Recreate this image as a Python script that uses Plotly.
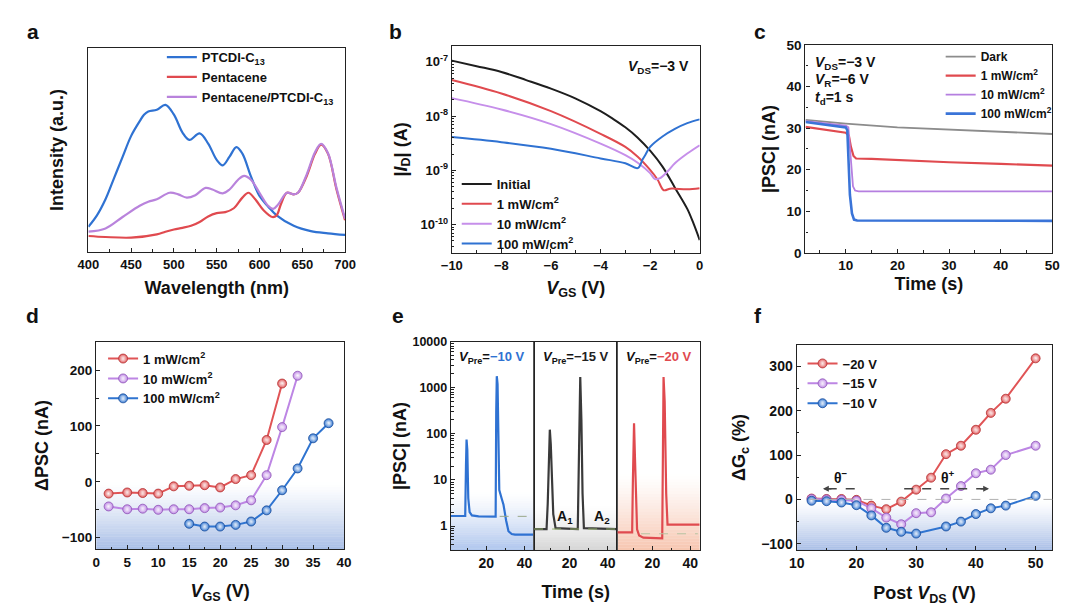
import plotly.graph_objects as go

# ---------------- data ----------------
# (a) PL spectra
a_wl_blue = [400,410,420,430,440,450,460,465,470,480,490,500,510,518,530,540,550,557,565,573,580,590,600,610,620,640,660,680,700]
a_int_blue = [12.3,17.9,25.8,36.2,46.6,56.9,64.1,67.3,68.9,69.7,72.1,67.3,58.5,54.9,58.1,53.1,45.1,42.4,46.7,51.4,48.2,37.0,27.4,22.3,17.9,12.8,10.2,9.1,8.3]
a_wl_red = [400,420,450,480,490,500,510,520,530,540,550,560,570,580,587,595,605,615,620,625,632,640,645,655,665,672,680,690,700]
a_int_red = [7.8,7.3,7.0,8.6,9.9,11.0,11.8,12.8,14.7,17.4,19.0,19.5,21.4,26.6,29.0,25.8,20.3,17.1,17.9,23.4,29.0,28.2,29.0,37.0,48.2,52.6,48.2,30.6,15.5]
a_wl_pur = [400,420,440,460,470,480,495,505,515,525,537,545,557,565,575,582,590,600,610,616,622,632,640,645,655,665,672,680,690,700]
a_int_pur = [9.9,11.5,17.1,22.6,24.6,25.8,29.0,28.2,26.6,27.8,31.4,30.6,28.7,30.6,35.4,37.3,35.4,29.0,22.6,21.1,23.4,29.0,28.2,29.0,37.8,49.0,53.0,48.5,31.4,16.3]
a_names = ["PTCDI-C<sub>13</sub>", "Pentacene", "Pentacene/PTCDI-C<sub>13</sub>"]

# (b) transfer curves
b_v_init = [-10,-9,-8,-7,-6,-5,-4,-3.5,-3,-2.5,-2,-1.5,-1,-0.5,-0.25,0]
b_i_init = [1.05e-7,8.3e-8,6.5e-8,4.6e-8,3.2e-8,2.1e-8,1.23e-8,8.9e-9,6.2e-9,4.0e-9,2.3e-9,1.17e-9,4.8e-10,1.95e-10,1.05e-10,5.2e-11]
b_v_1 = [-10,-8,-6,-4,-3,-2.5,-2,-1.7,-1.45,-1.2,-1,-0.5,0]
b_i_1 = [4.6e-8,2.6e-8,1.23e-8,4.7e-9,2.7e-9,1.78e-9,1.02e-9,6.8e-10,4.3e-10,4.6e-10,4.6e-10,4.5e-10,4.7e-10]
b_v_10 = [-10,-8,-6,-4,-3,-2.5,-2,-1.8,-1.6,-1.3,-1,-0.5,0]
b_i_10 = [2.14e-8,1.32e-8,7.1e-9,3.1e-9,1.9e-9,1.38e-9,8.9e-10,6.9e-10,7.2e-10,9.5e-10,1.35e-9,2.04e-9,2.9e-9]
b_v_100 = [-10,-8,-6,-4,-3,-2.5,-2.3,-2.2,-2,-1.5,-1,-0.5,0]
b_i_100 = [4.1e-9,3.3e-9,2.5e-9,1.66e-9,1.35e-9,1.1e-9,1.6e-9,1.9e-9,2.7e-9,4.2e-9,5.8e-9,7.4e-9,8.7e-9]
b_names = ["Initial", "1 mW/cm<sup>2</sup>", "10 mW/cm<sup>2</sup>", "100 mW/cm<sup>2</sup>"]

# (c) PSC vs time
c_t_dark = [2.2,10,20,30,40,50]
c_i_dark = [32.0,31.1,30.2,29.7,29.2,28.6]
c_t_1 = [2.2,10,10.6,11.0,11.5,12,15,20,30,40,50]
c_i_1 = [30.3,28.9,28.2,25.5,23.3,22.7,22.6,22.3,21.8,21.4,21.0]
c_t_10 = [2.2,10,10.5,11,11.4,11.8,12.5,50]
c_i_10 = [31.7,30.6,30.2,22,16,15.0,14.8,14.8]
c_t_100 = [2.2,10,10.3,10.8,11.2,11.6,12.2,50]
c_i_100 = [31.5,30.2,29.5,14,9.5,8.0,7.8,7.7]
c_names = ["Dark", "1 mW/cm<sup>2</sup>", "10 mW/cm<sup>2</sup>", "100 mW/cm<sup>2</sup>"]

# (d) ΔPSC vs VGS
d_v_1 = [2,5,7.5,10,12.5,15,17.5,20,22.5,25,27.5,30]
d_p_1 = [-21,-19,-20,-21,-8,-7,-6,-10,5,12,75,176]
d_v_10 = [2,5,7.5,10,12.5,15,17.5,20,22.5,25,27.5,30,32.5]
d_p_10 = [-44,-49,-48,-50,-49,-49,-47,-46,-42,-33,12,98,190]
d_v_100 = [15,17.5,20,22.5,25,27.5,30,32.5,35,37.5]
d_p_100 = [-75,-80,-80,-77,-71,-51,-15,24,78,105]
d_names = ["1 mW/cm<sup>2</sup>", "10 mW/cm<sup>2</sup>", "100 mW/cm<sup>2</sup>"]

# (e) PSC spikes for three pre-voltages
e_t_blue = [1.5,9.0,9.4,9.7,10.1,10.6,11.3,12.5,16,24.9,25.2,25.5,25.9,26.4,26.8,28.0,29.0,30.4,31.6,33.3,35,45]
e_i_blue = [1.65,1.65,20,75,45,4.0,2.0,1.7,1.62,1.6,300,1780,1200,40,6.0,4.0,2.9,1.3,0.77,0.67,0.65,0.65]
e_t_black = [1.5,8.0,8.6,9.2,9.7,10.2,10.8,11.5,12.7,24.3,24.9,25.6,26.2,26.8,27.5,45]
e_i_black = [0.86,0.86,3,40,123,60,10,1.8,0.9,0.86,30,1700,200,5,0.9,0.86]
e_t_red = [1.5,9.3,9.7,10.3,10.8,11.3,11.9,13,15.2,25.2,25.5,25.9,26.5,27.3,28,45]
e_i_red = [0.73,0.73,10,170,30,2.5,0.85,0.62,0.56,0.54,50,1700,500,5,1.07,1.07]
e_ref_t1 = [27, 45]; e_ref_i1 = [1.62, 1.62]
e_ref_t2 = [1.5, 45]; e_ref_i2 = [0.86, 0.86]
e_ref_t3 = [14, 44]; e_ref_i3 = [0.68, 0.68]
e_labels = ["\u221210 V", "\u221215 V", "\u221220 V"]

# (f) ΔGc vs post VDS
f_v_20 = [12.5,15,17.5,20,22.5,25,27.5,30,32.5,35,37.5,40,42.5,45,50]
f_g_20 = [2,1,1,-1,-14,-22,-5,22,49,102,121,157,195,227,318]
f_v_15 = [12.5,15,17.5,20,22.5,25,27.5,30,32.5,35,37.5,40,42.5,45,50]
f_g_15 = [1,0,-1,-3,-20,-41,-56,-31,-29,2,30,59,67,100,121]
f_v_10 = [12.5,15,17.5,20,22.5,25,27.5,30,35,37.5,40,42.5,45,50]
f_g_10 = [-3,-4,-7,-13,-36,-64,-73,-77,-61,-50,-33,-20,-14,8]
f_names = ["\u221220 V", "\u221215 V", "\u221210 V"]

# ---------------- style ----------------
W, H = 1080, 616
FONT = "Liberation Sans, Arial, sans-serif"
BLUE = "#2f72d2"
RED = "#e04a4f"
BLACK = "#1e1e1e"
GRAY = "#8c8c8c"

def dx(a, b):
    return [a / W, b / W]

def dy(top, bottom):
    return [1 - bottom / H, 1 - top / H]

def tf(size=13):
    return dict(family=FONT, size=size, color="#111", weight="bold")

def axis(domain, anchor, title="", standoff=4, tsize=13, **kw):
    d = dict(domain=domain, anchor=anchor, showline=True, linecolor="#222", linewidth=1.3,
             mirror=True, ticks="inside", ticklen=4, tickwidth=1.2, tickcolor="#222",
             showgrid=False, zeroline=False, tickfont=tf(tsize),
             title=dict(text=title, font=tf(18), standoff=standoff))
    d.update(kw)
    return d

def leg(x, y, size=12):
    return dict(x=x / W, y=1 - y / H, xanchor="left", yanchor="top", bgcolor="rgba(0,0,0,0)",
                font=dict(family=FONT, size=size, color="#111", weight="bold"),
                itemwidth=30, tracegroupgap=0, borderwidth=0)

fig = go.Figure()

def line(x, y, color, name, xa, ya, lg=None, width=2, shape="linear", show=True, dash=None):
    fig.add_trace(go.Scatter(x=x, y=y, mode="lines", name=name, xaxis=xa, yaxis=ya,
                             line=dict(color=color, width=width, shape=shape, dash=dash),
                             legend=lg, showlegend=show and lg is not None))

def ball(x, y, color, edge, name, xa, ya, lg):
    fig.add_trace(go.Scatter(x=x, y=y, mode="lines+markers", name=name, xaxis=xa, yaxis=ya,
                             line=dict(color=color, width=2),
                             marker=dict(size=9, color=color, line=dict(color=edge, width=0.8),
                                         gradient=dict(type="radial", color="rgba(255,255,255,0.85)")),
                             legend=lg))

# (a)
line(a_wl_blue, a_int_blue, BLUE, a_names[0], "x", "y", "legend", 2.2, "spline")
line(a_wl_red, a_int_red, RED, a_names[1], "x", "y", "legend", 2.2, "spline")
line(a_wl_pur, a_int_pur, "#b983dc", a_names[2], "x", "y", "legend", 2.2, "spline")
# (b)
line(b_v_init, b_i_init, BLACK, b_names[0], "x2", "y2", "legend2", 2, "spline")
line(b_v_1, b_i_1, RED, b_names[1], "x2", "y2", "legend2", 2, "spline")
line(b_v_10, b_i_10, "#c68fea", b_names[2], "x2", "y2", "legend2", 2, "spline")
line(b_v_100, b_i_100, BLUE, b_names[3], "x2", "y2", "legend2", 2, "spline")
# (c)
line(c_t_dark, c_i_dark, GRAY, c_names[0], "x3", "y3", "legend3", 1.8)
line(c_t_1, c_i_1, RED, c_names[1], "x3", "y3", "legend3", 2.2)
line(c_t_10, c_i_10, "#b57fe0", c_names[2], "x3", "y3", "legend3", 1.8)
line(c_t_100, c_i_100, "#3a74d8", c_names[3], "x3", "y3", "legend3", 2.6)
# (d)
ball(d_v_1, d_p_1, "#e05456", "#b53335", d_names[0], "x4", "y4", "legend4")
ball(d_v_10, d_p_10, "#bd86e4", "#9058b8", d_names[1], "x4", "y4", "legend4")
ball(d_v_100, d_p_100, "#2f74d0", "#1d4f9c", d_names[2], "x4", "y4", "legend4")
# (e)
line(e_t_blue, e_i_blue, BLUE, "V_Pre -10 V", "x5", "y5", width=2.2)
line(e_ref_t1, e_ref_i1, "#9aa88a", "ref1", "x5", "y5", width=1, dash="dash")
line(e_t_black, e_i_black, "#3a3a3a", "V_Pre -15 V", "x6", "y6", width=2.2)
line(e_ref_t2, e_ref_i2, "#93b06a", "ref2", "x6", "y6", width=1, dash="dash")
line(e_t_red, e_i_red, RED, "V_Pre -20 V", "x7", "y7", width=2.2)
line(e_ref_t3, e_ref_i3, "#b8c4a2", "ref3", "x7", "y7", width=1.2, dash="dash")
# (f)
ball(f_v_20, f_g_20, "#e05456", "#b53335", f_names[0], "x8", "y8", "legend5")
ball(f_v_15, f_g_15, "#bd86e4", "#9058b8", f_names[1], "x8", "y8", "legend5")
ball(f_v_10, f_g_10, "#2f74d0", "#1d4f9c", f_names[2], "x8", "y8", "legend5")

# ---------------- gradient backgrounds ----------------
shapes = []
def bands(xref, yref, y_top, y_bot, rgb, amax, n=26, power=1.3):
    for i in range(n):
        t0 = y_top + (y_bot - y_top) * i / n
        t1 = y_top + (y_bot - y_top) * (i + 1) / n
        a = amax * ((i + 0.5) / n) ** power
        shapes.append(dict(type="rect", xref=xref, yref=yref, x0=0, x1=1, y0=t0, y1=t1,
                           fillcolor=f"rgba({rgb},{a:.3f})", line=dict(width=0), layer="below"))

bands("x4 domain", "y4", 0, -121, "95,135,210", 0.55)
bands("x5 domain", "y5 domain", 0.28, 0, "95,140,220", 0.5)
bands("x6 domain", "y6 domain", 0.22, 0, "150,150,150", 0.4)
bands("x7 domain", "y7 domain", 0.37, 0, "240,150,110", 0.55)
bands("x8 domain", "y8", 0, -115, "95,135,210", 0.55)

shapes.append(dict(type="line", xref="x8 domain", yref="y8", x0=0.05, x1=1, y0=0, y1=0,
                   line=dict(color="#b0b0b0", width=1, dash="dash")))
# theta arrows
shapes.append(dict(type="line", xref="x8", yref="y8", x0=15.2, x1=20.7, y0=24, y1=24,
                   line=dict(color="#444", width=1.3, dash="dash")))
shapes.append(dict(type="line", xref="x8", yref="y8", x0=28.0, x1=41.4, y0=24, y1=24,
                   line=dict(color="#444", width=1.3, dash="dash")))

def A(**kw):
    d = dict(showarrow=False, xanchor="center", yanchor="middle")
    d.update(kw)
    return d

ann = []
for lbl, x, y in [("a", 22, 25), ("b", 392, 25), ("c", 765, 25), ("d", 22, 316), ("e", 395, 316), ("f", 763, 316)]:
    ann.append(A(text=lbl, x=x / W, y=1 - y / H, xref="paper", yref="paper",
                 font=dict(family=FONT, size=21, color="#111", weight="bold")))
ann.append(A(text="<i>V</i><sub>DS</sub>=\u22123 V", x=0.965, y=0.9, xref="x2 domain", yref="y2 domain",
             xanchor="right", font=tf(14)))
for i, s in enumerate(["<i>V</i><sub>DS</sub>=\u22123 V", "<i>V</i><sub>R</sub>=\u22126 V", "<i>t</i><sub>d</sub>=1 s"]):
    ann.append(A(text=s, x=0.03, y=(1 - (57 + 18 * i - 39) / 213), xref="x3 domain", yref="y3 domain",
                 xanchor="left", font=tf(14)))
for xa, lab, col in [("x5", e_labels[0], BLUE), ("x6", e_labels[1], "#222"), ("x7", e_labels[2], RED)]:
    ann.append(A(text=f"<i>V</i><sub>Pre</sub>=<span style='color:{col}'>{lab}</span>", x=0.5, y=0.925,
                 xref=xa + " domain", yref="y5 domain", font=tf(13)))
ann.append(A(text="A<sub>1</sub>", x=17.8, y=0.16, xref="x6", yref="y6 domain", font=tf(14)))
ann.append(A(text="A<sub>2</sub>", x=37.1, y=0.16, xref="x6", yref="y6 domain", font=tf(14)))
ann.append(A(text="θ<sup>\u2212</sup>", x=17.5, y=50, xref="x8", yref="y8", font=tf(14)))
ann.append(A(text="θ<sup>+</sup>", x=35.4, y=50, xref="x8", yref="y8", font=tf(14)))
ann.append(dict(text="", x=14.4, y=24, xref="x8", yref="y8", ax=10, ay=0, showarrow=True,
                arrowhead=2, arrowsize=0.9, arrowwidth=1.3, arrowcolor="#444"))
ann.append(dict(text="", x=42.2, y=24, xref="x8", yref="y8", ax=-10, ay=0, showarrow=True,
                arrowhead=2, arrowsize=0.9, arrowwidth=1.3, arrowcolor="#444"))

def logminor(lo, hi):
    v = []
    for e in range(lo, hi):
        for m in range(2, 10):
            v.append(m * 10 ** e)
    return v

e_dom_y = dy(343, 557)
fig.update_layout(
    width=W, height=H, margin=dict(l=0, r=0, t=0, b=0),
    paper_bgcolor="white", plot_bgcolor="rgba(0,0,0,0)",
    font=dict(family=FONT, color="#111"),
    shapes=shapes, annotations=ann,
    xaxis=axis(dx(79, 341), "y", "Wavelength (nm)", 10, range=[400, 700], tickvals=[400,450,500,550,600,650,700],
               minor=dict(ticks="inside", ticklen=2.5, dtick=25, tick0=400)),
    yaxis=axis(dy(42, 251), "x", "Intensity (a.u.)", 18, range=[0, 100], showticklabels=False, ticks=""),
    xaxis2=axis(dx(450, 703), "y2", "<i>V</i><sub>GS</sub> (V)", 9, range=[-10, 0], tickvals=[-10,-8,-6,-4,-2,0],
                minor=dict(ticks="inside", ticklen=2.5, dtick=1, tick0=0)),
    yaxis2=axis(dy(40, 252), "x2", "|<i>I</i><sub>D</sub>| (A)", 8, type="log", range=[-10.52, -6.71],
                tickvals=[1e-10, 1e-9, 1e-8, 1e-7],
                ticktext=["10<sup>-10</sup>", "10<sup>-9</sup>", "10<sup>-8</sup>", "10<sup>-7</sup>"],
                minor=dict(ticks="inside", ticklen=2.5, tickvals=logminor(-11, -6))),
    xaxis3=axis(dx(811, 1063), "y3", "Time (s)", 5, 13.5, range=[2.2, 50], tickvals=[10,20,30,40,50],
                minor=dict(ticks="inside", ticklen=2.5, dtick=5, tick0=0)),
    yaxis3=axis(dy(39, 252), "x3", "|PSC| (nA)", 6, 13.5, range=[0, 50], tickvals=[0,10,20,30,40,50],
                minor=dict(ticks="inside", ticklen=2.5, dtick=5, tick0=0)),
    xaxis4=axis(dx(87, 340), "y4", "<i>V</i><sub>GS</sub> (V)", 15, 13.5, range=[0, 40], tickvals=list(range(0, 45, 5)),
                minor=dict(ticks="inside", ticklen=2.5, dtick=2.5, tick0=0)),
    yaxis4=axis(dy(343, 556), "x4", "\u0394PSC (nA)", 8, 13.5, range=[-121, 251], tickvals=[-100, 0, 100, 200],
                minor=dict(ticks="inside", ticklen=2.5, dtick=50, tick0=0)),
    xaxis5=axis(dx(449, 534), "y5", "", 4, 14, range=[1.5, 45], tickvals=[20, 40],
                minor=dict(ticks="inside", ticklen=2.5, tickvals=[10, 30])),
    yaxis5=axis(e_dom_y, "x5", "|PSC| (nA)", 1, 12.5, type="log", range=[-0.53, 4],
                tickvals=[1, 10, 100, 1000, 10000], ticktext=["1", "10", "100", "1000", "10000"],
                minor=dict(ticks="inside", ticklen=2.5, tickvals=logminor(-1, 4))),
    xaxis6=axis(dx(534, 619), "y6", "Time (s)", 15, 14, range=[1.5, 45], tickvals=[20, 40],
                minor=dict(ticks="inside", ticklen=2.5, tickvals=[10, 30])),
    yaxis6=axis(e_dom_y, "x6", "", type="log", range=[-0.53, 4], matches="y5", showticklabels=False, ticks="",
                linecolor="#555"),
    xaxis7=axis(dx(619, 703), "y7", "", 4, 14, range=[1.5, 45], tickvals=[20, 40],
                minor=dict(ticks="inside", ticklen=2.5, tickvals=[10, 30])),
    yaxis7=axis(e_dom_y, "x7", "", type="log", range=[-0.53, 4], matches="y5", showticklabels=False, ticks=""),
    xaxis8=axis(dx(802, 1063), "y8", "Post <i>V</i><sub>DS</sub> (V)", 16, 14, range=[10, 52.8], tickvals=[10,20,30,40,50],
                minor=dict(ticks="inside", ticklen=2.5, dtick=5, tick0=0)),
    yaxis8=axis(dy(346, 557), "x8", "\u0394G<sub>c</sub> (%)", 10, 14, range=[-115, 349], tickvals=[-100, 0, 100, 200, 300],
                minor=dict(ticks="inside", ticklen=2.5, dtick=50, tick0=0)),
    legend=leg(154, 36, 13),
    legend2=leg(455, 166, 13),
    legend3=leg(949, 36, 12),
    legend4=leg(94, 345, 13),
    legend5=leg(808, 350, 13),
)

fig.write_html("out.html")
